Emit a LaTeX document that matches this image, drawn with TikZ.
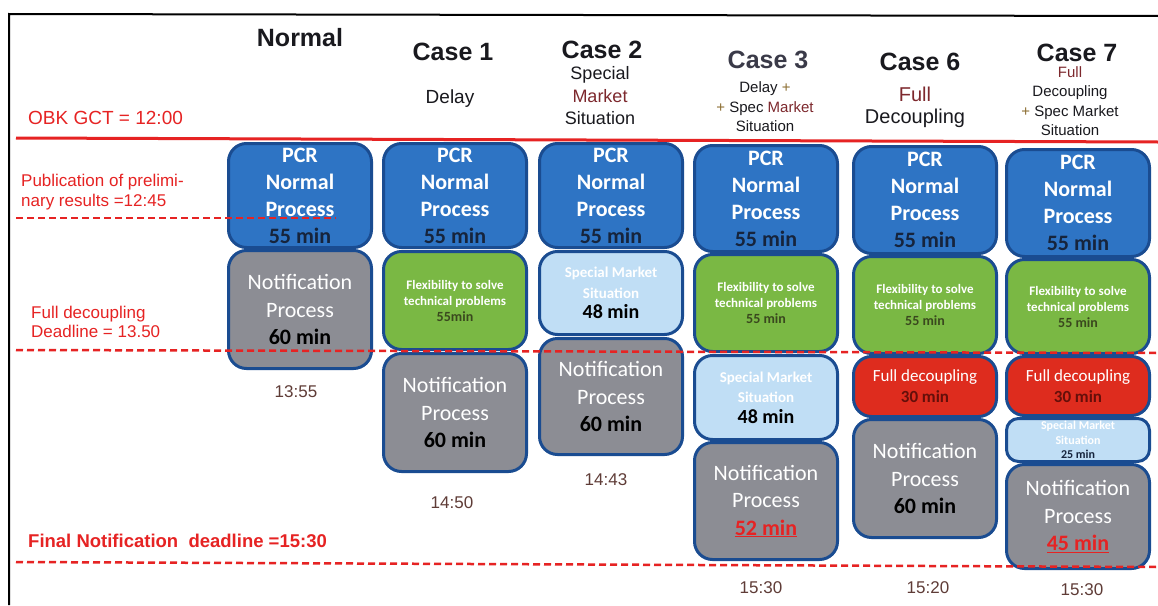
\documentclass[tikz,border=0pt]{standalone}
\usepackage{fontspec}
\setmainfont{Liberation Sans}
\newfontfamily\boxfont{Carlito}

\definecolor{obkred}{RGB}{230,35,35}
\definecolor{pcrblue}{RGB}{46,116,196}
\definecolor{boxline}{RGB}{26,76,145}
\definecolor{notegray}{RGB}{140,141,148}
\definecolor{flexgreen}{RGB}{122,184,68}
\definecolor{specblue}{RGB}{192,222,245}
\definecolor{decred}{RGB}{222,44,30}
\definecolor{minnavy}{RGB}{22,36,60}
\definecolor{minolive}{RGB}{58,72,30}
\definecolor{decdark}{RGB}{100,15,10}
\definecolor{headtext}{RGB}{25,25,30}
\definecolor{case3gray}{RGB}{58,58,72}
\definecolor{mktred}{RGB}{125,40,45}
\definecolor{plusolive}{RGB}{140,110,50}
\definecolor{timebrown}{RGB}{95,60,55}

\begin{document}
\begin{tikzpicture}[x=1pt, y=-1pt,
    box/.style={rectangle, rounded corners=18pt, draw=boxline, line width=3pt,
        minimum width=143pt, inner sep=0pt, align=center, anchor=north},
    pcrbox/.style={box, fill=pcrblue, text=white, font=\boxfont\bfseries\fontsize{22}{27}\selectfont},
    notebox/.style={box, fill=notegray, text=white, font=\boxfont\fontsize{22}{27.5}\selectfont},
    flexbox/.style={box, fill=flexgreen, text=white, font=\boxfont\bfseries\fontsize{13}{16}\selectfont},
    specbox/.style={box, fill=specblue, text=white, font=\boxfont\bfseries\fontsize{15}{20.5}\selectfont},
    decbox/.style={box, fill=decred, text=white, font=\boxfont\fontsize{17}{21}\selectfont},
    header/.style={font=\bfseries\fontsize{25}{30}\selectfont, text=headtext},
    subhead/.style={align=center, text=headtext},
    deadline/.style={text=obkred, anchor=west, align=left, inner sep=0pt},
    reddash/.style={draw=obkred, line width=2.5pt, dash pattern=on 7pt off 4pt},
    clocklabel/.style={font=\fontsize{17}{20}\selectfont, text=timebrown}
]
    \fill[white] (0,0) rectangle (1158,605);
    \useasboundingbox (0,0) rectangle (1158,605);
    \draw[line width=2pt] (9,605) -- (9,14) -- (1158,16);

    % column headers
    \node[header] (hnormal) at (300,38) {Normal};
    \node[header] (hcase1) at (453,52) {Case 1};
    \node[subhead, font=\fontsize{19}{22}\selectfont] (scase1) at (450,99) {Delay};
    \node[header] (hcase2) at (602,50) {Case 2};
    \node[subhead, font=\fontsize{18}{22.5}\selectfont] (scase2) at (600,96) {Special\\\textcolor{mktred}{Market}\\Situation};
    \node[header, text=case3gray] (hcase3) at (768,60) {Case 3};
    \node[subhead, font=\fontsize{15}{19.5}\selectfont] (scase3) at (765,107) {Delay \textcolor{plusolive}{+}\\\textcolor{plusolive}{+} Spec \textcolor{mktred}{Market}\\Situation};
    \node[header] (hcase6) at (920,62) {Case 6};
    \node[subhead, font=\fontsize{20}{22}\selectfont] (scase6) at (915,107) {\textcolor{mktred}{Full}\\Decoupling};
    \node[header] (hcase7) at (1077,53) {Case 7};
    \node[subhead, font=\fontsize{15}{19.3}\selectfont] (scase7) at (1070,101) {\textcolor{mktred}{Full}\\Decoupling\\\textcolor{plusolive}{+} Spec Market\\Situation};

    % deadlines on the left
    \node[deadline, font=\fontsize{19}{22}\selectfont] (gct) at (28,118) {OBK GCT = 12:00};
    \node[deadline, font=\fontsize{17}{20}\selectfont] (prelim) at (21,192) {Publication of prelimi-\\nary results =12:45};
    \node[deadline, font=\fontsize{17}{19.5}\selectfont] (decdl) at (31,322) {Full decoupling\\Deadline = 13.50};
    \node[deadline, font=\bfseries\fontsize{18.5}{22}\selectfont] (finaldl) at (28,541) {Final Notification\ \ deadline =15:30};

    % Normal
    \node[pcrbox, minimum height=104pt] (pcr0) at (300,142) {PCR\\Normal\\Process\\\textcolor{minnavy}{55 min}};
    \node[notebox, minimum height=118pt] (note0) at (300,249) {Notification\\Process\\\textcolor{black}{\bfseries 60 min}};
    \node[clocklabel] (t0) at (296,392) {13:55};

    % Case 1
    \node[pcrbox, minimum height=104pt] (pcr1) at (455,142) {PCR\\Normal\\Process\\\textcolor{minnavy}{55 min}};
    \node[flexbox, minimum height=98pt] (flex1) at (455,250) {Flexibility to solve\\technical problems\\\textcolor{minolive}{\fontsize{14}{16}\selectfont 55min}};
    \node[notebox, minimum height=118pt] (note1) at (455,352) {Notification\\Process\\\textcolor{black}{\bfseries 60 min}};
    \node[clocklabel] (t1) at (452,503) {14:50};

    % Case 2
    \node[pcrbox, minimum height=104pt] (pcr2) at (611,142) {PCR\\Normal\\Process\\\textcolor{minnavy}{55 min}};
    \node[specbox, minimum height=83pt] (spec2) at (611,250) {Special Market\\Situation\\\textcolor{black}{\fontsize{20}{20}\selectfont 48 min}};
    \node[notebox, minimum height=116pt] (note2) at (611,337) {Notification\\Process\\\textcolor{black}{\bfseries 60 min}};
    \node[clocklabel] (t2) at (606,480) {14:43};

    % Case 3
    \node[pcrbox, minimum height=106pt] (pcr3) at (766,144) {PCR\\Normal\\Process\\\textcolor{minnavy}{55 min}};
    \node[flexbox, minimum height=97pt] (flex3) at (766,253) {Flexibility to solve\\technical problems\\\textcolor{minolive}{\fontsize{14}{16}\selectfont 55 min}};
    \node[specbox, minimum height=84pt] (spec3) at (766,354) {Special Market\\Situation\\\textcolor{black}{\fontsize{20}{20}\selectfont 48 min}};
    \node[notebox, minimum height=117pt] (note3) at (766,441) {Notification\\Process\\\textcolor{obkred}{\bfseries\underline{52 min}}};
    \node[clocklabel] (t3) at (761,588) {15:30};

    % Case 6
    \node[pcrbox, minimum height=107pt] (pcr6) at (925,145) {PCR\\Normal\\Process\\\textcolor{minnavy}{55 min}};
    \node[flexbox, minimum height=97pt] (flex6) at (925,255) {Flexibility to solve\\technical problems\\\textcolor{minolive}{\fontsize{14}{16}\selectfont 55 min}};
    \node[decbox, minimum height=60pt] (dec6) at (925,355) {Full decoupling\\\textcolor{decdark}{\bfseries 30 min}};
    \node[notebox, minimum height=118pt] (note6) at (925,418) {Notification\\Process\\\textcolor{black}{\bfseries 60 min}};
    \node[clocklabel] (t6) at (928,588) {15:20};

    % Case 7
    \node[pcrbox, minimum height=107pt] (pcr7) at (1078,148) {PCR\\Normal\\Process\\\textcolor{minnavy}{55 min}};
    \node[flexbox, minimum height=94pt] (flex7) at (1078,258) {Flexibility to solve\\technical problems\\\textcolor{minolive}{\fontsize{14}{16}\selectfont 55 min}};
    \node[decbox, minimum height=59pt] (dec7) at (1078,355) {Full decoupling\\\textcolor{decdark}{\bfseries 30 min}};
    \node[specbox, minimum height=43pt, rounded corners=12pt, font=\boxfont\bfseries\fontsize{12}{14.5}\selectfont] (spec7) at (1078,417) {Special Market\\Situation\\\textcolor{minnavy}{25 min}};
    \node[notebox, minimum height=104pt] (note7) at (1078,463) {Notification\\Process\\\textcolor{obkred}{\bfseries\underline{45 min}}};
    \node[clocklabel] (t7) at (1082,590) {15:30};

    % time lines
    \draw[obkred, line width=3pt] (16,138) -- (1158,142);
    \draw[reddash] (16,218) -- (336,218);
    \draw[reddash] (16,350) -- (1158,353);
    \draw[reddash] (16,562) -- (1158,567);
\end{tikzpicture}
\end{document}
